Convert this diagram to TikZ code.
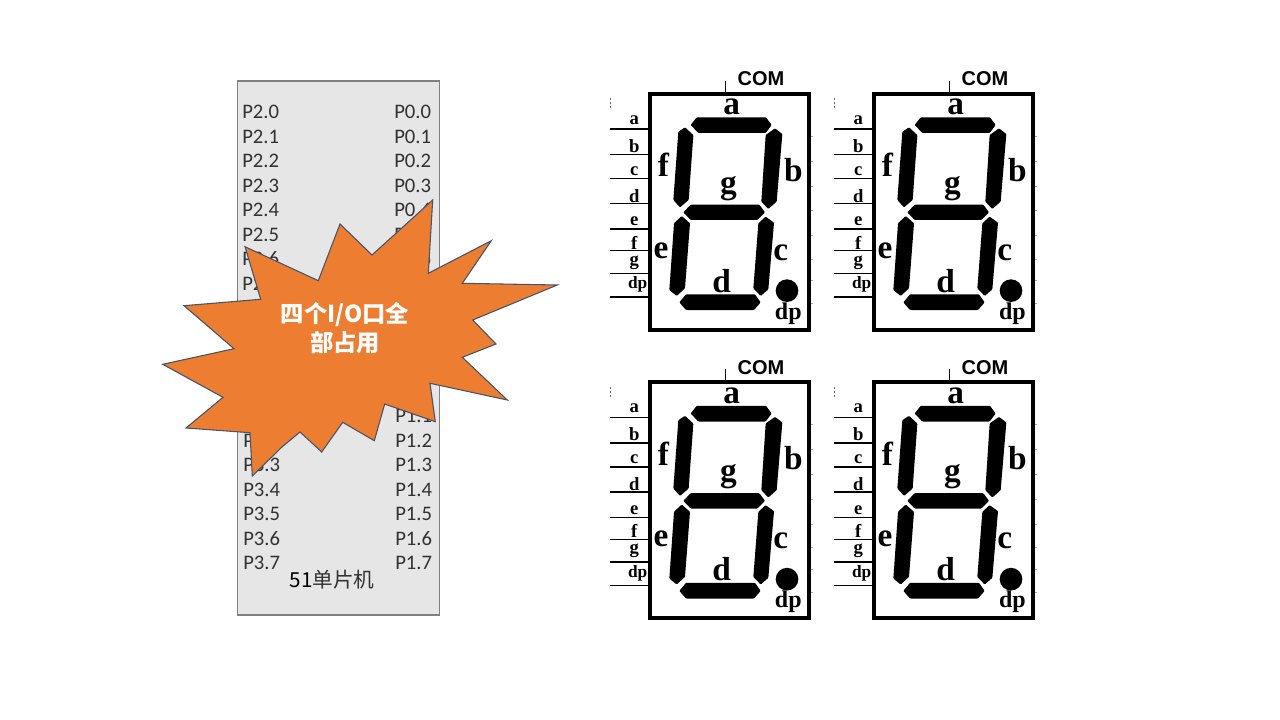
\documentclass[tikz,border=0pt]{standalone}
\usepackage{fontspec}
\setmainfont{Carlito}
\newfontfamily\cjk{Noto Sans CJK SC}
\newfontfamily\comfont{Liberation Sans}
\newfontfamily\letfont{Liberation Serif}
\usetikzlibrary{positioning}
\definecolor{chipbg}{RGB}{231,230,230}
\definecolor{chipln}{RGB}{127,127,127}
\definecolor{burstbg}{RGB}{237,125,49}
\definecolor{burstln}{RGB}{68,84,106}
\definecolor{portcol}{RGB}{50,50,50}
\tikzset{
  chipbox/.style ={draw=chipln, fill=chipbg, line width=0.8pt, inner sep=0pt,
                   minimum width=151.5pt, minimum height=400.5pt},
  portlab/.style ={anchor=west, inner sep=0pt, text=portcol, font=\fontsize{15.5}{15.5}\selectfont},
  chiplab/.style ={inner sep=0pt, text=portcol, font=\fontsize{15.5}{15.5}\cjk},
  burstlab/.style={inner sep=0pt, align=center, text=white,
                   font=\fontsize{17.5}{21.75}\cjk\bfseries},
  dispbox/.style ={draw=black, line width=3pt, inner sep=0pt,
                   minimum width=118.75pt, minimum height=177pt},
  pinline/.style ={draw=black, line width=1pt},
  comlab/.style  ={inner sep=0pt, font=\fontsize{15}{15}\comfont\bfseries},
  seglab/.style  ={inner sep=0pt, font=\fontsize{25}{25}\letfont\bfseries},
  dotlab/.style  ={inner sep=0pt, font=\fontsize{18}{18}\letfont\bfseries},
  pinlab/.style  ={inner sep=0pt, font=\fontsize{14}{14}\letfont\bfseries},
  dplab/.style   ={inner sep=0pt, font=\fontsize{13}{13}\letfont\bfseries},
  segfill/.style ={fill=black, rounded corners=0.6pt},
  pics/segdisp/.style={code={
    \begin{scope}[x=0.25pt,y=-0.25pt]
    \node[dispbox] (-box) at (388.5,455) {};
    %% Common pin
    \coordinate (-comtop) at (376,62);
    \draw[pinline] (-comtop) -- (-comtop |- -box.north);
    \node[comlab] (-com) at (483,57) {COM};
    %% Segments
    \fill[segfill] (272,195) -- (290,172) -- (498,172) -- (515,195) -- (497,219) -- (295,219) -- cycle;
    \fill[segfill] (255,202) -- (280,225) -- (266,420) -- (240,442) -- (220,420) -- (235,215) -- cycle;
    \fill[segfill] (525,205) -- (547,222) -- (530,425) -- (505,447) -- (484,425) -- (497,225) -- cycle;
    \fill[segfill] (250,457) -- (272,434) -- (478,434) -- (495,457) -- (472,480) -- (272,480) -- cycle;
    \fill[segfill] (245,468) -- (270,490) -- (255,685) -- (230,708) -- (208,690) -- (222,490) -- cycle;
    \fill[segfill] (497,470) -- (522,488) -- (505,688) -- (482,708) -- (460,685) -- (475,490) -- cycle;
    \fill[segfill] (238,727) -- (258,703) -- (465,703) -- (482,727) -- (462,750) -- (258,750) -- cycle;
    \fill (561,692) circle (34);
    %% Segment letters
    \foreach \lx/\ly/\ltxt in {395/142/a,190/315/f,580/330/b,385/385/g,183/572/e,542/578/c,365/663/d}
      \node[seglab] (-seg\ltxt) at (\lx,\ly) {\ltxt};
    \node[dotlab] (-segdp) at (565,760) {dp};
    %% Pins
    \foreach \py/\qy/\ptxt in {207/180/a,283/257/b,355/333/c,430/407/d,507/484/e,572/548/f,640/608/g} {
      \coordinate (-pin\ptxt) at (30,\py);
      \draw[pinline] (-pin\ptxt) -- (-pin\ptxt -| -box.west);
      \node[pinlab] (-lab\ptxt) at (103,\qy) {\ptxt};
    }
    \coordinate (-pindp) at (30,711);
    \draw[pinline] (-pindp) -- (-pindp -| -box.west);
    \node[dplab] (-labdp) at (113,674) {dp};
    %% Scan marks
    \draw[black!60, line width=0.6pt, dash pattern=on 1.5pt off 1.5pt] (30,115) -- (30,145);
    \foreach \ty in {228,303,378,452,527,597,662,730}
      \draw[black!35, line width=0.5pt] (632,\ty) -- (640,\ty);
    \end{scope}
  }},
}
\begin{document}
\begin{tikzpicture}[x=0.75pt,y=-0.75pt]
\useasboundingbox (0,0) rectangle (1280,720);
\fill[white] (0,0) rectangle (1280,720);

%% Chip
\node[chipbox] (chip) at (338.3,348) {};
\foreach \i [evaluate=\i as \py using 112+24.5*\i] in {0,...,7}
  \node[portlab] (ptwo\i) at (242,\py) {P2.\i};
\foreach \i [evaluate=\i as \py using 112+24.5*\i] in {0,...,6}
  \node[portlab] (pzero\i) at (394,\py) {P0.\i};
\foreach \i [evaluate=\i as \py using 391.5+24.5*\i] in {2,...,7}
  \node[portlab] (pthree\i) at (243,\py) {P3.\i};
\foreach \i [evaluate=\i as \py using 391.5+24.5*\i] in {1,...,7}
  \node[portlab] (pone\i) at (395,\py) {P1.\i};
\node[chiplab] (chipname) at (332,580) {\textcolor{black}{51}单片机};

%% Burst
\draw[fill=burstbg, draw=burstln, line width=0.8pt]
  (432.7,200) -- (428.3,273.3) -- (491.3,240.7) -- (462.3,283.3) -- (557.3,285)
  -- (472.7,320) -- (496,344) -- (462.3,357.3) -- (507.3,400) -- (430,383.3)
  -- (435.3,421.7) -- (384.7,404) -- (374.3,440.7) -- (342.7,422.3) -- (321.7,452)
  -- (300,432) -- (282.3,446.7) -- (252.3,476) -- (250,432.7) -- (186,428)
  -- (223,397.3) -- (162.7,364.3) -- (234,348.7) -- (184,305.7) -- (260.7,299.3)
  -- (245,246.7) -- (318.3,280.7) -- (340,224) -- (372,255) -- cycle;
\node[burstlab] (burstname) at (345,328.5) {四个I/O口全\\部占用};

%% Displays
\pic (dispa) at (600,60) {segdisp};
\pic (dispb) at (824,60) {segdisp};
\pic (dispc) at (600,348.5) {segdisp};
\pic (dispd) at (824,348.5) {segdisp};
\end{tikzpicture}
\end{document}
